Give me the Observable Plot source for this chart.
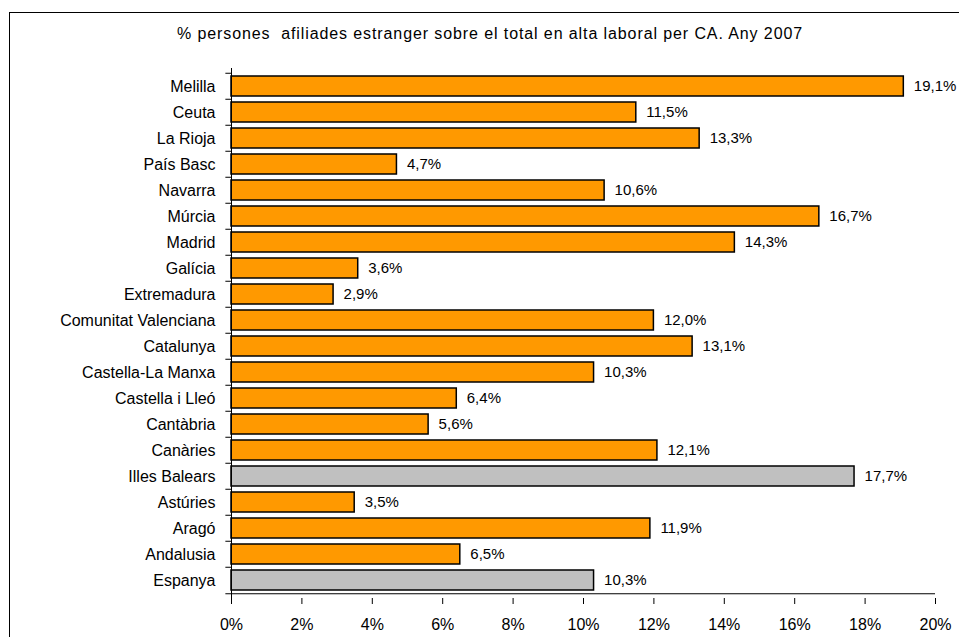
<!DOCTYPE html>
<html>
<head>
<meta charset="utf-8">
<script src="https://cdn.jsdelivr.net/npm/d3@7"></script>
<script src="https://cdn.jsdelivr.net/npm/@observablehq/plot@0.6"></script>
<style>
  html, body { margin: 0; padding: 0; background: #fff; }
  #wrap { position: relative; width: 959px; height: 637px; overflow: hidden; font-family: "Liberation Sans", Arial, sans-serif; }
  #border { position: absolute; left: 9px; top: 12px; width: 2000px; height: 2000px; border-top: 1.5px solid #000; border-left: 1.5px solid #000; box-sizing: border-box; }
  #title { position: absolute; left: 490px; top: 26px; transform: translateX(-50%); white-space: pre; font-size: 16px; letter-spacing: 0.9px; line-height: 1; color: #000; }
  #chart { position: absolute; left: 0; top: 0; }
</style>
</head>
<body>
<div id="wrap">
  <div id="border"></div>
  <div id="title"></div>
  <div id="chart"></div>
</div>
<script>
const titleText = "% persones  afiliades estranger sobre el total en alta laboral per CA. Any 2007";
const regions = ["Melilla", "Ceuta", "La Rioja", "País Basc", "Navarra", "Múrcia", "Madrid", "Galícia", "Extremadura", "Comunitat Valenciana", "Catalunya", "Castella-La Manxa", "Castella i Lleó", "Cantàbria", "Canàries", "Illes Balears", "Astúries", "Aragó", "Andalusia", "Espanya"];
const values = [19.1, 11.5, 13.3, 4.7, 10.6, 16.7, 14.3, 3.6, 2.9, 12.0, 13.1, 10.3, 6.4, 5.6, 12.1, 17.7, 3.5, 11.9, 6.5, 10.3];
const highlighted = ["Illes Balears", "Espanya"];
const xTicks = [0, 2, 4, 6, 8, 10, 12, 14, 16, 18, 20];

document.getElementById("title").textContent = titleText;

const data = regions.map((r, i) => ({region: r, value: values[i], grey: highlighted.includes(r)}));
const fmt = v => v.toFixed(1).replace(".", ",") + "%";

const H = 637, mTop = 68, mBottom = 39;
const step = (H - mTop - mBottom) / regions.length;

const chart = Plot.plot({
  width: 959,
  height: H,
  marginLeft: 231,
  marginRight: 24,
  marginTop: mTop,
  marginBottom: mBottom,
  style: {fontFamily: "'Liberation Sans', Arial, sans-serif", fontSize: "16px", color: "#000", background: "transparent", overflow: "visible"},
  x: {domain: [0, 20]},
  y: {domain: regions, paddingInner: 0.245, paddingOuter: 0.1225, align: 0.5},
  marks: [
    Plot.barX(data, {y: "region", x: "value", fill: d => d.grey ? "#C0C0C0" : "#FF9900", stroke: "#000", strokeWidth: 1.5}),
    Plot.text(data, {y: "region", x: "value", text: d => fmt(d.value), textAnchor: "start", dx: 10, fontSize: 15, fill: "#000"}),
    // category boundary ticks on the left axis
    Plot.ruleY(regions, {y: d => d, x1: -0.16, x2: 0, dy: -step / 2, stroke: "#000"}),
    Plot.ruleY([regions[regions.length - 1]], {y: d => d, x1: -0.16, x2: 20, dy: step / 2, stroke: "#000"}),
    Plot.ruleX([0], {stroke: "#000"}),
    Plot.axisY({tickSize: 0, tickPadding: 16, label: null, fontSize: 16}),
    Plot.axisX({ticks: xTicks, tickFormat: d => d + "%", tickSize: 6, tickPadding: 14, label: null, fontSize: 16, stroke: "#000"})
  ]
});
document.getElementById("chart").appendChild(chart);
</script>
</body>
</html>
